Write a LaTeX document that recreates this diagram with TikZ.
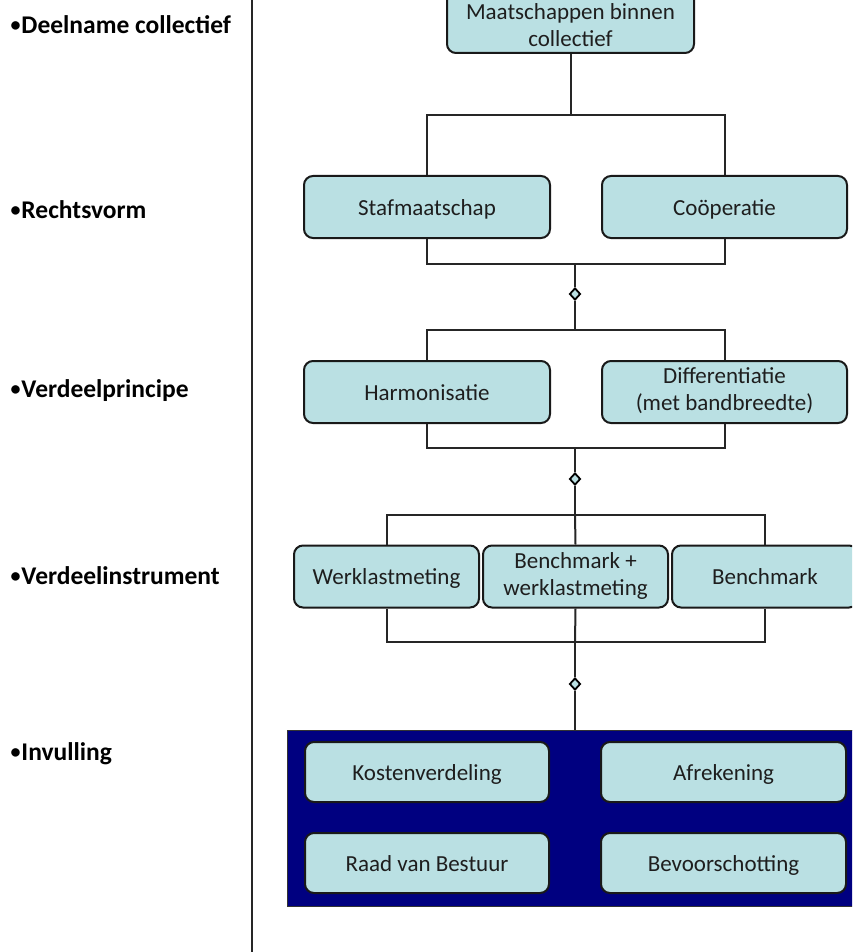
\documentclass[tikz,border=0pt]{standalone}
\usepackage{fontspec}
\setmainfont{Carlito}
\usepackage{tikz}
\usetikzlibrary{calc,shapes.geometric}

\definecolor{boxfill}{RGB}{186,224,227}
\definecolor{invulblue}{RGB}{0,0,128}
\definecolor{tekst}{RGB}{30,30,30}

\newcommand{\bol}{\raisebox{2pt}{\fontsize{20}{20}\selectfont•}\hspace{1pt}}

\tikzset{
	blok/.style={draw=black!90, line width=2pt, fill=boxfill, rounded corners=9pt,
		minimum height=62pt, text=tekst, align=center,
		font=\fontsize{23}{27}\selectfont, inner sep=0pt,
		execute at begin node=\rule{0pt}{0.98em},
		execute at end node=\rule[-0.25em]{0pt}{0.25em}},
	laag/.style={anchor=west, font=\fontsize{25.5}{29}\selectfont\bfseries, text=black},
	lijn/.style={line width=2pt, black!85},
	knoop/.style={diamond, draw=black, line width=1.8pt, fill=boxfill, inner sep=0pt,
		minimum width=11pt, minimum height=12pt},
}

\begin{document}
\begin{tikzpicture}[x=1pt, y=-1pt]
			%%%%% START %%%%%
			
			\path[use as bounding box, clip] (0, 0) rectangle (852, 952);
			\fill[white] (0, 0) rectangle (852, 952);
			
			% lagen links
			\node[laag] (deel) at (7, 25) {\bol Deelname collectief};
			\node[laag] (rech) at (7, 210) {\bol Rechtsvorm};
			\node[laag] (verp) at (7, 391) {\bol Verdeelprincipe};
			\node[laag] (veri) at (7, 576) {\bol Verdeelinstrument};
			\node[laag] (invl) at (7, 754) {\bol Invulling};
			
			\draw[line width=2pt, black!85] (252, -2) -- (252, 954);
			
			% deelname collectief
			\node[blok, minimum width=247pt, minimum height=66pt] (top) at (570.5, 20) {\rule{0pt}{32pt}Maatschappen binnen\\collectief};
			
			% rechtsvorm
			\node[blok, minimum width=246pt] (staf) at (427, 207) {Stafmaatschap};
			\node[blok, minimum width=245pt] (coop) at (724.5, 207) {Coöperatie};
			
			% verdeelprincipe
			\node[blok, minimum width=246pt] (harm) at (427, 392) {Harmonisatie};
			\node[blok, minimum width=245pt] (diff) at (724.5, 392) {Differentiatie\\(met bandbreedte)};
			
			% verdeelinstrument
			\node[blok, minimum width=185pt] (werk) at (386.5, 576.5) {Werklastmeting};
			\node[blok, minimum width=185pt] (benw) at (575.5, 576.5) {Benchmark +\\werklastmeting};
			\node[blok, minimum width=186pt] (bench) at (765, 576.5) {Benchmark};
			
			% invulling
			\node[draw=black!80, line width=1pt, fill=invulblue, minimum width=574pt, minimum height=176pt] (inv) at (574, 818) {};
			\node[blok, minimum width=244pt, minimum height=60pt] (kost) at (427, 772) {Kostenverdeling};
			\node[blok, minimum width=245pt, minimum height=60pt] (afr) at (723.5, 772) {Afrekening};
			\node[blok, minimum width=244pt, minimum height=60pt] (raad) at (427, 863) {Raad van Bestuur};
			\node[blok, minimum width=245pt, minimum height=60pt] (bevo) at (723.5, 863) {Bevoorschotting};
			
			% verbindingen
			\coordinate (b1) at (575, 115);
			\coordinate (b2) at (575, 264);
			\coordinate (b3) at (575, 330);
			\coordinate (b4) at (575, 448);
			\coordinate (b5) at (575, 515);
			\coordinate (b6) at (575, 642);
			
			\draw[lijn] (top.south) -- (top.south |- b1);
			\draw[lijn] (staf.north) |- (b1) -| (coop.north);
			\draw[lijn] (staf.south) |- (b2) -| (coop.south);
			\draw[lijn] (harm.north) |- (b3) -| (diff.north);
			\draw[lijn] (harm.south) |- (b4) -| (diff.south);
			\draw[lijn] (werk.north) |- (b5) -| (bench.north);
			\draw[lijn] (benw.north) -- (b5);
			\draw[lijn] (werk.south) |- (b6) -| (bench.south);
			\draw[lijn] (benw.south) -- (b6);
			
			\node[knoop] (d1) at (575, 294) {};
			\node[knoop] (d2) at (575, 479) {};
			\node[knoop] (d3) at (575, 684) {};
			
			\draw[lijn] (b2) -- (d1) -- (b3);
			\draw[lijn] (b4) -- (d2) -- (b5);
			\draw[lijn] (b6) -- (d3) -- (d3 |- inv.north);
			
			%%%%% END %%%%%
\end{tikzpicture}
\end{document}
